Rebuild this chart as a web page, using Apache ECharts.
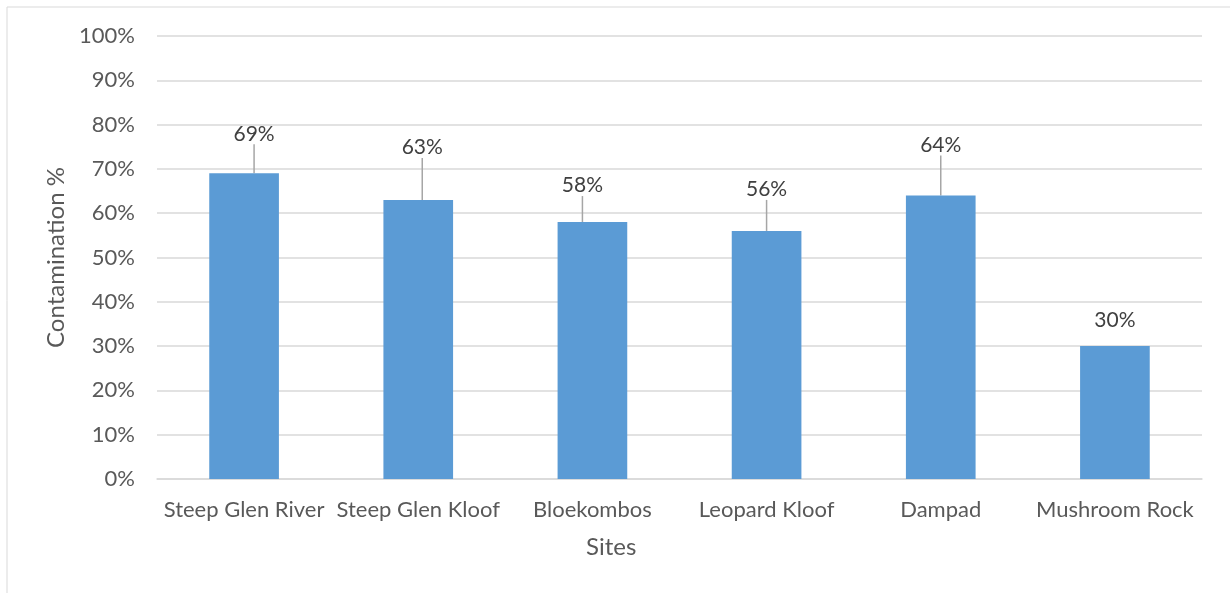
<!DOCTYPE html>
<html>
<head>
<meta charset="utf-8">
<script src="https://cdn.jsdelivr.net/npm/echarts@6/dist/echarts.min.js"></script>
<style>
  html, body { margin: 0; padding: 0; background: #fff; }
  #chart { width: 1230px; height: 593px; }
</style>
</head>
<body>
<div id="chart"></div>
<script>
// sites and contamination values (%)
var sites = ['Steep Glen River', 'Steep Glen Kloof', 'Bloekombos', 'Leopard Kloof', 'Dampad', 'Mushroom Rock']
var contamination = [69, 63, 58, 56, 64, 30]
var yTicks = [0, 10, 20, 30, 40, 50, 60, 70, 80, 90, 100]

// label offsets (callout style), dx / dy from default top position
var labelDx = [10, 4, -10, 0, 0, 0]
var labelDy = [-24, -37, -21, -26, -35, -10]
var showLeader = [true, true, true, true, true, false]

var textColor = '#595959'
var fontFam = 'Lato, "Open Sans", sans-serif'

var myChart = echarts.init(document.getElementById('chart'))

var barData = contamination.map(function (v, i) {
  return {
    value: v,
    labelLine: { show: showLeader[i] }
  }
})

var option = {
  backgroundColor: '#fff',
  animation: false,
  grid: {
    left: 157,
    right: 28,
    top: 36,
    bottom: 114
  },
  graphic: [
    {
      type: 'rect',
      shape: { x: 7, y: 7, width: 1260, height: 620 },
      style: { fill: 'none', stroke: '#d9d9d9', lineWidth: 1 },
      silent: true
    },
    {
      type: 'text',
      left: 586,
      top: 535,
      style: {
        text: 'Sites',
        fill: textColor,
        font: '24px ' + fontFam
      }
    }
  ],
  xAxis: {
    type: 'category',
    data: sites,
    axisLine: { lineStyle: { color: '#d9d9d9', width: 1.5 } },
    axisTick: { show: false },
    axisLabel: {
      color: textColor,
      fontSize: 22,
      fontFamily: fontFam,
      margin: 20,
      interval: 0
    }
  },
  yAxis: {
    type: 'value',
    min: 0,
    max: 100,
    interval: 10,
    name: 'Contamination %',
    nameLocation: 'middle',
    nameRotate: 90,
    nameGap: 86,
    nameTextStyle: {
      color: textColor,
      fontSize: 24,
      fontFamily: fontFam
    },
    axisLine: { show: false },
    axisTick: { show: false },
    axisLabel: {
      color: textColor,
      fontSize: 22,
      fontFamily: fontFam,
      margin: 22,
      formatter: function (v) {
        return yTicks.indexOf(v) !== -1 ? v + '%' : ''
      }
    },
    splitLine: { lineStyle: { color: '#d9d9d9', width: 1.5 } }
  },
  series: [
    {
      type: 'bar',
      data: barData,
      barWidth: '40%',
      itemStyle: { color: '#5b9bd5' },
      label: {
        show: true,
        position: 'top',
        distance: 5,
        color: '#404040',
        fontSize: 21,
        fontFamily: fontFam,
        formatter: '{c}%'
      },
      labelLine: {
        show: true,
        lineStyle: { color: '#a6a6a6', width: 1.5 }
      },
      labelLayout: function (params) {
        return {
          dx: labelDx[params.dataIndex],
          dy: labelDy[params.dataIndex]
        }
      }
    }
  ]
}

myChart.setOption(option)
</script>
</body>
</html>
